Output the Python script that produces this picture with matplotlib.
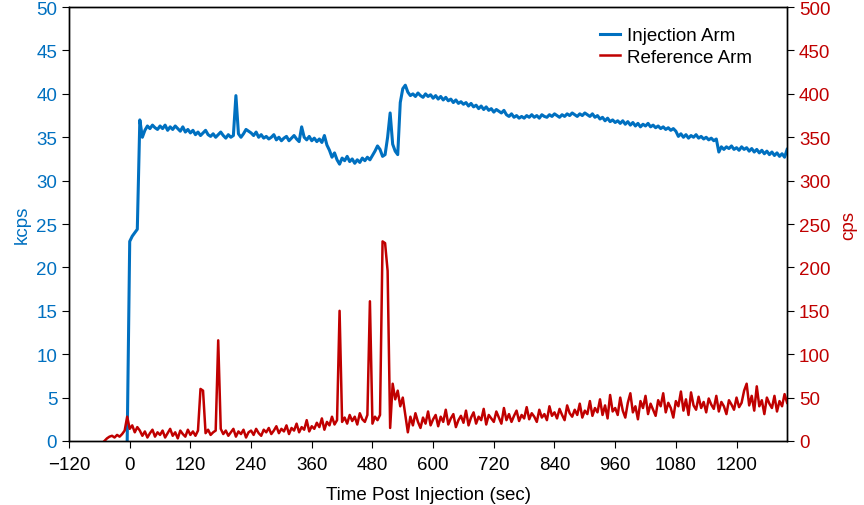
import numpy as np
import matplotlib.pyplot as plt

plt.rcParams['font.family'] = ['Liberation Sans', 'DejaVu Sans']

blue = '#0070C0'
red = '#C00000'

# Injection arm, kcps, one value every 5 s starting at t = -5
inj_t0 = -5
inj_kcps = [
    0.0,
    23.0, 23.6, 24.0, 24.4, 37.0, 35.0, 35.8, 36.3, 36.0, 36.4, 36.1, 35.9,   # 0..55
    36.3, 36.0, 36.4, 35.8, 36.2, 35.9, 36.3, 36.0, 35.7, 36.2, 35.6, 35.9,   # 60..115
    35.5, 35.8, 35.3, 35.6, 35.2, 35.5, 35.8, 35.3, 35.1, 35.4, 35.0, 35.3,   # 120..175
    35.6, 35.2, 34.9, 35.3, 35.0, 35.2, 39.8, 35.4, 35.0, 35.4, 35.9, 35.7,   # 180..235
    35.5, 35.2, 35.6, 35.0, 35.3, 34.9, 35.1, 34.8, 35.0, 35.3, 34.7, 35.0,   # 240..295
    34.6, 34.9, 35.1, 34.6, 34.9, 35.2, 34.8, 34.5, 36.2, 35.0, 34.7, 35.1,   # 300..355
    34.6, 34.9, 34.5, 34.8, 34.4, 35.2, 34.1, 33.5, 32.7, 33.2, 32.4, 31.9,   # 360..415
    32.6, 32.3, 32.8, 32.2, 32.5, 32.0, 32.4, 32.1, 32.6, 32.3, 32.7, 32.4,   # 420..475
    32.9, 33.4, 34.0, 33.6, 32.8, 33.0, 35.0, 37.8, 34.2, 33.4, 33.0, 39.0,   # 480..535
    40.6, 41.0, 40.2, 39.8, 40.0, 39.7, 40.1, 39.8, 39.6, 40.0, 39.7, 39.9,   # 540..595
    39.5, 39.8, 39.4, 39.7, 39.3, 39.6, 39.2, 39.4, 39.0, 39.3, 38.9, 39.1,   # 600..655
    38.8, 39.0, 38.6, 38.9, 38.5, 38.7, 38.3, 38.6, 38.2, 38.5, 38.1, 38.3,   # 660..715
    37.9, 38.2, 38.0, 37.8, 38.1, 37.6, 37.4, 37.7, 37.3, 37.5, 37.2, 37.4,   # 720..775
    37.2, 37.5, 37.3, 37.6, 37.3, 37.5, 37.2, 37.6, 37.4, 37.3, 37.6, 37.4,   # 780..835
    37.7, 37.5, 37.3, 37.6, 37.4, 37.7, 37.5, 37.8, 37.6, 37.4, 37.7, 37.5,   # 840..895
    37.8, 37.6, 37.4, 37.7, 37.3, 37.5, 37.1, 37.3, 36.9, 37.2, 36.8, 37.0,   # 900..955
    36.7, 36.9, 36.6, 36.9, 36.5, 36.8, 36.4, 36.7, 36.3, 36.6, 36.2, 36.5,   # 960..1015
    36.3, 36.6, 36.2, 36.4, 36.1, 36.3, 36.0, 36.2, 35.9, 36.1, 35.8, 36.0,   # 1020..1075
    35.7, 35.1, 35.4, 35.0, 35.3, 34.9, 35.2, 35.0, 35.3, 34.9, 35.1, 34.8,   # 1080..1135
    35.0, 34.7, 34.9, 34.6, 34.8, 33.3, 33.9, 33.6, 33.9, 33.7, 34.0, 33.6,   # 1140..1195
    33.8, 33.5, 33.9, 33.6, 33.8, 33.4, 33.7, 33.3, 33.6, 33.2, 33.5, 33.1,   # 1200..1255
    33.4, 33.0, 33.3, 32.9, 33.2, 32.8, 33.1, 32.7, 33.6,                     # 1260..1300
]

# Reference arm, cps, one value every 5 s starting at t = -50
ref_t0 = -50
ref_cps = [
    0, 3, 5, 6, 4, 7, 5, 8, 12, 28,                                 # -50..-5
    14, 18, 10, 16, 12, 6, 11, 4, 9, 13, 5, 10,                     # 0..55
    7, 12, 4, 9, 14, 6, 10, 3, 12, 8, 5, 13,                        # 60..115
    7, 11, 6, 12, 60, 58, 9, 13, 7, 10, 12, 116,                    # 120..175
    14, 8, 12, 6, 10, 14, 5, 11, 8, 13, 4, 10,                      # 180..235
    12, 7, 14, 9, 6, 13, 10, 15, 8, 12, 17, 9,                      # 240..295
    14, 11, 18, 8, 15, 12, 20, 10, 16, 13, 24, 11,                  # 300..355
    17, 14, 21, 16, 26, 13, 22, 18, 28, 19, 24, 150,                # 360..415
    22, 27, 20, 30, 23, 28, 19, 32, 25, 22, 30, 161,                # 420..475
    20, 28, 24, 30, 230, 228, 196, 15, 66, 48, 58, 40,              # 480..535
    50, 30, 10, 28, 18, 32, 22, 15, 27, 20, 34, 18,                 # 540..595
    25, 30, 17, 28, 22, 36, 19, 26, 31, 16, 24, 29,                 # 600..655
    21, 35, 18, 27, 33, 20, 28, 24, 37, 19, 30, 26,                 # 660..715
    22, 34, 27, 20, 38, 24, 31, 22, 29, 35, 23, 30,                 # 720..775
    26, 39, 25, 32, 28, 22, 36, 27, 31, 24, 40, 29,                 # 780..835
    33, 26, 37, 30, 24, 41, 32, 28, 36, 30, 43, 27,                 # 840..895
    35, 31, 46, 29, 38, 33, 48, 30, 41, 26, 53, 34,                 # 900..955
    38, 30, 50, 35, 27, 44, 55, 33, 40, 25, 46, 38,                 # 960..1015
    52, 31, 43, 36, 29, 47, 40, 55, 33, 44, 38, 27,                 # 1020..1075
    46, 40, 57, 35, 48, 30, 56, 41, 36, 51, 38, 45,                 # 1080..1135
    33, 49, 42, 37, 52, 34, 45, 40, 31, 47, 42, 36,                 # 1140..1195
    50, 39, 44, 58, 66, 41, 52, 35, 63, 40, 47, 31,                 # 1200..1255
    50, 43, 38, 52, 34, 46, 40, 54, 44,                             # 1260..1300
]

inj_t = inj_t0 + 5 * np.arange(len(inj_kcps))
ref_t = ref_t0 + 5 * np.arange(len(ref_cps))

x_ticks = list(range(-120, 1201, 120))
fs = 13.5

fig = plt.figure(figsize=(8.64, 5.06), dpi=100)
ax = fig.add_axes([0.0799, 0.1265, 0.8311, 0.8575])
ax2 = ax.twinx()

l1, = ax.plot(inj_t, inj_kcps, color=blue, lw=2.2, label='Injection Arm')
l2, = ax2.plot(ref_t, ref_cps, color=red, lw=1.8, label='Reference Arm')

ax.set_xlim(-120, 1300)
ax.set_ylim(0, 50)
ax2.set_ylim(0, 500)
ax.set_xticks(x_ticks)
ax.set_yticks(range(0, 51, 5))
ax2.set_yticks(range(0, 501, 50))

ax.tick_params(axis='x', direction='out', length=5, labelsize=fs, colors='black', pad=6)
ax.tick_params(axis='y', direction='out', length=5, labelsize=fs, labelcolor=blue, color='black')
ax2.tick_params(axis='y', direction='out', length=5, labelsize=fs, labelcolor=red, color='black')

ax.set_xlabel('Time Post Injection (sec)', fontsize=fs, labelpad=9)
ax.set_ylabel('kcps', fontsize=fs, color=blue, labelpad=4)
ax2.set_ylabel('cps', fontsize=fs, color=red, labelpad=7)

for a in (ax, ax2):
    for s in a.spines.values():
        s.set_color('black')
        s.set_linewidth(1.0)

ax2.legend(handles=[l1, l2], loc='upper right', bbox_to_anchor=(0.975, 0.993),
           frameon=False, fontsize=fs, handlelength=1.05, handletextpad=0.4,
           labelspacing=0.25)

fig.savefig('out.png', dpi=100)
